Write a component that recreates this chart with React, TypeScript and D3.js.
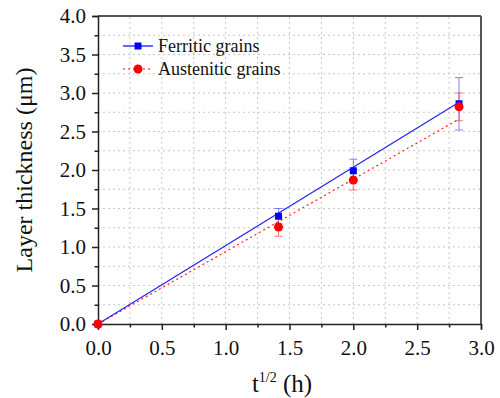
import * as d3 from "d3";
import { useEffect, useRef } from "react";

const sqrtT = [0, 1.414, 2.0, 2.828];
const ferritic = [0, 1.4, 1.99, 2.86];
const ferriticErr = [0, 0.1, 0.15, 0.34];
const austenitic = [0, 1.26, 1.87, 2.82];
const austeniticErr = [0, 0.12, 0.13, 0.18];
// linear fits through the origin (end points)
const ferriticFit = [0, 2.88];
const austeniticFit = [0, 2.66];
const fitX = [0, 2.828];
const xTicks = [0, 0.5, 1.0, 1.5, 2.0, 2.5, 3.0];
const yTicks = [0, 0.5, 1.0, 1.5, 2.0, 2.5, 3.0, 3.5, 4.0];

const FONT = "Liberation Serif, Times New Roman, serif";

export default function App() {
  const ref = useRef<SVGSVGElement>(null);

  useEffect(() => {
    if (!ref.current) return;
    const svg = d3.select(ref.current);
    svg.selectAll("*").remove();

    const width = 500,
      height = 398,
      margin = { top: 16, right: 19, bottom: 74, left: 98 };

    const x = d3.scaleLinear().domain([0, 3]).range([margin.left, width - margin.right]);
    const y = d3.scaleLinear().domain([0, 4]).range([height - margin.bottom, margin.top]);

    // Grid lines (every 0.25)
    const gx = d3.range(0.25, 3, 0.25);
    const gy = d3.range(0.25, 4, 0.25);
    const grid = svg.append("g").attr("stroke", "#c8c8c8").attr("stroke-width", 1).attr("stroke-dasharray", "2,3");
    grid.selectAll(".vx").data(gx).enter().append("line")
      .attr("x1", (d) => x(d)).attr("x2", (d) => x(d))
      .attr("y1", y(0)).attr("y2", y(4));
    grid.selectAll(".hy").data(gy).enter().append("line")
      .attr("x1", x(0)).attr("x2", x(3))
      .attr("y1", (d) => y(d)).attr("y2", (d) => y(d));

    // Frame top/right
    svg.append("line").attr("x1", x(0)).attr("x2", x(3)).attr("y1", y(4)).attr("y2", y(4))
      .attr("stroke", "#555").attr("stroke-width", 2);
    svg.append("line").attr("x1", x(3)).attr("x2", x(3)).attr("y1", y(4)).attr("y2", y(0))
      .attr("stroke", "#555").attr("stroke-width", 2);

    // Axes
    const xAxis = svg.append("g")
      .attr("transform", `translate(0, ${y(0)})`)
      .call(d3.axisBottom(x).tickValues(d3.range(0, 3.01, 0.25)).tickSize(5)
        .tickFormat((d) => (xTicks.some((t) => Math.abs(t - +d) < 1e-6) ? d3.format(".1f")(+d) : "")));
    xAxis.attr("font-family", null);
    xAxis.select(".domain").attr("stroke", "#222").attr("stroke-width", 1.5);
    xAxis.selectAll(".tick line").attr("stroke", "#222").attr("stroke-width", 1.5)
      .attr("y2", (d: any) => (Math.abs((d * 2) % 1) < 1e-6 ? 6 : 3.5));
    xAxis.selectAll("text").style("font-family", FONT).style("font-size", "21px").attr("fill", "#111").attr("y", 12).attr("dy", "0.9em");

    const yAxis = svg.append("g")
      .attr("transform", `translate(${x(0)}, 0)`)
      .call(d3.axisLeft(y).tickValues(d3.range(0, 4.01, 0.25)).tickSize(5)
        .tickFormat((d) => (yTicks.some((t) => Math.abs(t - +d) < 1e-6) ? d3.format(".1f")(+d) : "")));
    yAxis.attr("font-family", null);
    yAxis.select(".domain").attr("stroke", "#222").attr("stroke-width", 1.5);
    yAxis.selectAll(".tick line").attr("stroke", "#222").attr("stroke-width", 1.5)
      .attr("x2", (d: any) => (Math.abs((d * 2) % 1) < 1e-6 ? -6 : -3.5));
    yAxis.selectAll("text").style("font-family", FONT).style("font-size", "21px").attr("fill", "#111").attr("x", -12);

    // Fit lines
    const line = d3.line<number>().x((_, i) => x(fitX[i])).y((d) => y(d));
    svg.append("path").datum(austeniticFit).attr("fill", "none").attr("stroke", "#ff2020")
      .attr("stroke-width", 1.2).attr("stroke-dasharray", "2,3").attr("d", line);
    svg.append("path").datum(ferriticFit).attr("fill", "none").attr("stroke", "#2020ff")
      .attr("stroke-width", 1.2).attr("d", line);

    // Error bars
    const errBars = (vals: number[], errs: number[], color: string) => {
      const g = svg.append("g").attr("stroke", color).attr("stroke-width", 1).attr("opacity", 0.6);
      vals.forEach((v, i) => {
        if (errs[i] <= 0) return;
        const cx = x(sqrtT[i]);
        g.append("line").attr("x1", cx).attr("x2", cx).attr("y1", y(v - errs[i])).attr("y2", y(v + errs[i]));
        g.append("line").attr("x1", cx - 4).attr("x2", cx + 4).attr("y1", y(v - errs[i])).attr("y2", y(v - errs[i]));
        g.append("line").attr("x1", cx - 4).attr("x2", cx + 4).attr("y1", y(v + errs[i])).attr("y2", y(v + errs[i]));
      });
    };
    errBars(ferritic, ferriticErr, "#3030ff");
    errBars(austenitic, austeniticErr, "#ff2020");

    // Points
    svg.selectAll(".sq").data(ferritic).enter().append("rect")
      .attr("x", (d, i) => x(sqrtT[i]) - 3.5).attr("y", (d) => y(d) - 3.5)
      .attr("width", 7).attr("height", 7).attr("fill", "#0000ff");
    svg.selectAll(".ci").data(austenitic).enter().append("circle")
      .attr("cx", (d, i) => x(sqrtT[i])).attr("cy", (d) => y(d))
      .attr("r", 4.5).attr("fill", "#ff0000");

    // Legend
    const legend = [
      { label: "Ferritic grains", color: "#0000ff", dash: null, shape: "sq" },
      { label: "Austenitic grains", color: "#ff0000", dash: "2,3", shape: "ci" },
    ];
    legend.forEach((l, i) => {
      const ly = 46 + i * 23;
      const g = svg.append("g");
      g.append("line").attr("x1", 123).attr("x2", 153).attr("y1", ly).attr("y2", ly)
        .attr("stroke", l.color).attr("stroke-width", 1.2).attr("stroke-dasharray", l.dash);
      if (l.shape === "sq") {
        g.append("rect").attr("x", 134.5).attr("y", ly - 3.5).attr("width", 7).attr("height", 7).attr("fill", l.color);
      } else {
        g.append("circle").attr("cx", 138).attr("cy", ly).attr("r", 4.5).attr("fill", l.color);
      }
      g.append("text").attr("x", 158).attr("y", ly).attr("dy", "0.35em")
        .style("font-family", FONT).style("font-size", "18px").attr("fill", "#111").text(l.label);
    });

    // Axis titles
    const xt = svg.append("text").attr("x", 282).attr("y", 392).attr("text-anchor", "middle")
      .style("font-family", FONT).style("font-size", "25px").attr("fill", "#111");
    xt.append("tspan").text("t");
    xt.append("tspan").style("font-size", "14px").attr("dy", -10).text("1/2");
    xt.append("tspan").attr("dy", 10).text(" (h)");

    svg.append("text").attr("transform", `translate(32, ${y(2)}) rotate(-90)`)
      .attr("text-anchor", "middle").style("font-family", FONT).style("font-size", "24px")
      .attr("fill", "#111").text("Layer thickness (μm)");
  }, []);

  return (
    <svg ref={ref} width={500} height={398}
      style={{ position: "absolute", left: 0, top: 0, background: "#fff", fontFamily: FONT }} />
  );
}
